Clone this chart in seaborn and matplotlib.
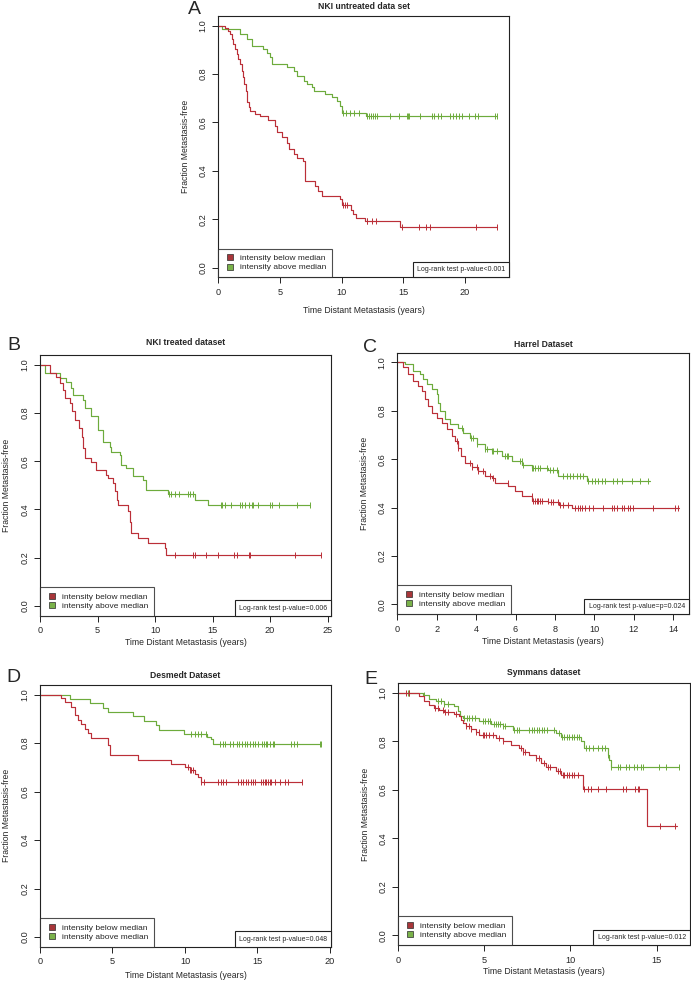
import numpy as np
import matplotlib
matplotlib.use("Agg")
import matplotlib.pyplot as plt
import seaborn as sns
from matplotlib.lines import Line2D
from matplotlib.offsetbox import AnchoredText

sns.set_style("ticks")
plt.rcParams["font.family"] = ["Liberation Sans", "DejaVu Sans"]

# ---------------------------------------------------------------------
# Kaplan-Meier curves (time in years, fraction free)
# ---------------------------------------------------------------------
# A - NKI untreated
A_red_t = [0, 0.55, 0.8, 0.95, 1.1, 1.22, 1.35, 1.49, 1.62, 1.76, 1.9, 2.03, 2.12, 2.22, 2.3,
           2.45, 2.57, 2.97, 3.4, 4.07, 4.56, 4.75, 5.16, 5.56, 5.7, 6.1, 6.38, 6.84, 7.05,
           7.86, 8.1, 8.4, 9.9, 10.05, 10.8, 10.95, 11.2, 11.9, 14.75, 22.6]
A_red_s = [1.0, 0.99, 0.978, 0.966, 0.945, 0.924, 0.903, 0.883, 0.862, 0.841, 0.814, 0.786,
           0.759, 0.731, 0.683, 0.662, 0.648, 0.635, 0.625, 0.61, 0.586, 0.559, 0.538, 0.517,
           0.49, 0.469, 0.455, 0.441, 0.358, 0.338, 0.317, 0.296, 0.283, 0.258, 0.24, 0.22,
           0.207, 0.193, 0.166, 0.166]
A_red_c = [10.1, 10.27, 10.4, 12.03, 12.1, 12.45, 12.8, 14.86, 16.3, 16.84, 17.2, 20.9, 22.6]
A_green_t = [0, 0.3, 1.76, 2.3, 2.7, 3.65, 3.92, 4.19, 4.38, 5.54, 6.1, 6.38, 6.92, 7.2, 7.6,
             7.74, 8.69, 9.24, 9.64, 9.83, 10.0, 12.0, 22.6]
A_green_s = [1.0, 0.986, 0.966, 0.945, 0.917, 0.904, 0.886, 0.869, 0.841, 0.83, 0.814, 0.793,
             0.772, 0.758, 0.745, 0.728, 0.717, 0.704, 0.687, 0.669, 0.641, 0.627, 0.627]
A_green_c = [10.1, 10.35, 10.65, 11.0, 11.45, 12.05, 12.2, 12.4, 12.55, 12.7, 12.85, 13.9,
             14.65, 15.3, 15.38, 15.5, 16.35, 17.35, 17.5, 17.8, 18.1, 18.8, 19.0, 19.3, 19.55,
             19.8, 20.3, 20.8, 21.1, 22.45, 22.6]

# B - NKI treated
B_red_t = [0, 0.85, 1.42, 1.71, 2.0, 2.2, 2.58, 2.78, 3.07, 3.36, 3.65, 3.74, 3.88, 4.46, 4.9,
           5.77, 5.9, 6.35, 6.55, 6.72, 6.78, 7.65, 7.8, 7.94, 8.52, 9.39, 10.84, 10.99, 24.4]
B_red_s = [1.0, 0.964, 0.95, 0.923, 0.895, 0.861, 0.84, 0.806, 0.771, 0.736, 0.702, 0.654,
           0.612, 0.598, 0.564, 0.544, 0.53, 0.509, 0.475, 0.44, 0.42, 0.392, 0.35, 0.302,
           0.281, 0.261, 0.24, 0.21, 0.21]
B_red_c = [11.71, 13.3, 13.45, 14.46, 15.48, 16.87, 17.13, 18.14, 18.26, 22.14, 24.4]
B_green_t = [0, 0.41, 1.71, 2.29, 2.72, 2.87, 3.74, 3.88, 4.4, 5.07, 5.48, 6.06, 6.2, 6.93,
             7.07, 7.51, 8.09, 8.96, 9.25, 11.14, 13.45, 14.6, 23.45]
B_green_s = [1.0, 0.965, 0.946, 0.93, 0.905, 0.875, 0.854, 0.819, 0.786, 0.731, 0.681, 0.66,
             0.64, 0.626, 0.585, 0.571, 0.537, 0.523, 0.482, 0.463, 0.44, 0.417, 0.417]
B_green_c = [11.19, 11.36, 11.77, 12.12, 12.87, 13.01, 13.3, 15.71, 15.86, 16.06, 16.58,
             17.36, 17.59, 17.86, 18.2, 18.41, 18.52, 18.99, 20.03, 20.14, 20.75, 22.38, 23.45]

# C - Harrel
C_red_t = [0, 0.3, 0.56, 0.81, 1.07, 1.24, 1.41, 1.58, 1.74, 2.0, 2.25, 2.5, 2.76, 2.93, 3.1,
           3.23, 3.44, 3.77, 4.11, 4.45, 4.79, 4.96, 5.64, 5.98, 6.32, 6.83, 7.67, 8.18, 8.86,
           14.3]
C_red_s = [1.0, 0.979, 0.951, 0.924, 0.903, 0.882, 0.847, 0.82, 0.792, 0.771, 0.751, 0.723,
           0.695, 0.674, 0.647, 0.612, 0.585, 0.568, 0.55, 0.532, 0.522, 0.501, 0.487, 0.467,
           0.446, 0.429, 0.421, 0.411, 0.40, 0.40]
C_red_c = [3.01, 3.1, 3.69, 3.81, 4.03, 4.11, 4.36, 4.7, 4.87, 5.63, 6.82, 6.9, 6.99, 7.07,
           7.15, 7.24, 7.32, 7.66, 7.8, 7.92, 8.17, 8.25, 8.42, 8.68, 9.02, 9.15, 9.27, 9.39,
           9.52, 9.73, 9.95, 10.45, 10.88, 11.0, 11.13, 11.38, 11.52, 11.72, 11.8, 11.97,
           12.99, 14.09, 14.23]
C_green_t = [0, 0.39, 0.81, 1.15, 1.32, 1.49, 1.74, 2.0, 2.08, 2.17, 2.42, 2.68, 3.1, 3.35,
             3.69, 4.03, 4.45, 4.79, 5.3, 5.8, 6.32, 6.82, 7.66, 8.17, 9.61, 12.8]
C_green_s = [1.0, 0.995, 0.965, 0.951, 0.93, 0.91, 0.889, 0.868, 0.834, 0.799, 0.764, 0.744,
             0.73, 0.709, 0.688, 0.661, 0.643, 0.633, 0.612, 0.591, 0.577, 0.564, 0.554,
             0.532, 0.508, 0.508]
C_green_c = [3.27, 3.74, 3.86, 4.03, 4.45, 4.53, 4.79, 4.87, 5.04, 5.46, 5.55, 5.63, 6.23,
             6.31, 6.39, 6.82, 6.9, 6.99, 7.15, 7.24, 7.58, 7.75, 7.92, 8.09, 8.42, 8.59,
             8.76, 8.93, 9.1, 9.27, 9.44, 9.69, 9.86, 10.03, 10.2, 10.37, 10.54, 10.96,
             11.13, 11.38, 11.89, 12.31, 12.74]

# D - Desmedt
D_red_t = [0, 1.47, 1.7, 2.16, 2.39, 2.62, 2.85, 3.08, 3.31, 3.49, 4.69, 4.8, 6.76, 9.06,
           9.98, 10.32, 10.67, 10.9, 11.08, 18.05]
D_red_s = [1.0, 0.987, 0.971, 0.95, 0.916, 0.895, 0.881, 0.86, 0.84, 0.822, 0.792, 0.75,
           0.732, 0.715, 0.702, 0.688, 0.674, 0.66, 0.639, 0.639]
D_red_c = [10.21, 10.32, 10.44, 10.55, 11.13, 11.29, 12.28, 12.46, 12.62, 12.85, 13.66,
           13.84, 14.0, 14.18, 14.34, 14.53, 14.69, 14.8, 15.26, 15.38, 15.49, 15.61, 15.72,
           15.84, 15.95, 16.23, 16.52, 16.87, 17.1, 18.05]
D_green_t = [0, 2.05, 3.43, 4.34, 4.69, 6.41, 7.17, 8.02, 8.18, 9.93, 11.54, 11.82, 11.93,
             19.4]
D_green_s = [1.0, 0.982, 0.964, 0.946, 0.93, 0.912, 0.891, 0.874, 0.854, 0.837, 0.826, 0.816,
             0.796, 0.796]
D_green_c = [10.44, 10.67, 10.9, 11.13, 11.47, 12.41, 12.6, 12.76, 13.1, 13.29, 13.56, 13.75,
             13.91, 14.14, 14.3, 14.48, 14.67, 14.83, 15.06, 15.29, 15.45, 15.56, 15.68,
             15.86, 16.05, 16.14, 17.33, 17.52, 17.75, 19.29, 19.36]

# E - Symmans
E_red_t = [0, 1.22, 1.51, 1.8, 2.09, 2.38, 2.67, 3.25, 3.54, 3.64, 3.74, 3.93, 4.22, 4.51,
           4.71, 5.67, 6.06, 6.54, 7.03, 7.22, 7.61, 8.0, 8.29, 8.58, 9.16, 9.45, 10.71,
           14.42, 16.2]
E_red_s = [1.0, 0.986, 0.969, 0.952, 0.938, 0.928, 0.92, 0.913, 0.904, 0.889, 0.876, 0.862,
           0.851, 0.837, 0.827, 0.814, 0.8, 0.786, 0.772, 0.758, 0.745, 0.731, 0.71, 0.694,
           0.68, 0.662, 0.603, 0.451, 0.451]
E_red_c = [0.45, 0.6, 2.15, 2.29, 2.58, 2.73, 2.87, 3.35, 3.93, 4.09, 4.22, 4.51, 4.67, 4.9,
           4.99, 5.09, 5.28, 5.48, 5.87, 6.06, 7.13, 7.26, 7.38, 8.0, 8.15, 8.48, 8.67, 8.81,
           9.26, 9.39, 9.55, 9.64, 9.78, 9.93, 10.09, 10.22, 10.42, 10.8, 10.99, 11.19,
           11.58, 12.06, 13.03, 13.22, 13.76, 13.9, 13.99, 15.19, 16.06]
E_green_t = [0, 1.41, 1.8, 2.19, 2.67, 3.25, 3.45, 3.58, 3.74, 4.71, 5.38, 6.06, 6.64, 9.16,
             9.45, 10.6, 10.81, 12.16, 12.25, 12.35, 16.3]
E_green_s = [1.0, 0.99, 0.975, 0.965, 0.955, 0.945, 0.924, 0.906, 0.896, 0.883, 0.873, 0.862,
             0.848, 0.834, 0.82, 0.8, 0.772, 0.745, 0.724, 0.696, 0.696]
E_green_c = [0.54, 0.64, 1.51, 2.29, 2.48, 2.67, 2.87, 3.83, 3.97, 4.12, 4.28, 4.47, 4.94,
             5.05, 5.19, 5.33, 5.58, 5.67, 5.77, 5.9, 6.06, 6.22, 6.74, 6.87, 7.03, 7.61,
             7.76, 7.9, 8.04, 8.19, 8.34, 8.48, 8.62, 9.06, 9.35, 9.51, 9.64, 9.78, 9.93,
             10.09, 10.22, 10.36, 10.47, 10.9, 11.09, 11.33, 11.58, 11.83, 12.02, 12.16,
             12.35, 12.74, 12.87, 13.22, 13.41, 13.7, 13.84, 14.09, 14.19, 15.16, 15.55, 16.28]

letters = ["A", "B", "C", "D", "E"]
titles = ["NKI untreated data set", "NKI treated dataset", "Harrel Dataset",
          "Desmedt Dataset", "Symmans dataset"]
pvalues = ["Log-rank test p-value<0.001", "Log-rank test p-value=0.006",
           "Log-rank test p-value=p=0.024", "Log-rank test p-value=0.048",
           "Log-rank test p-value=0.012"]
xmax = [23.6, 25.3, 14.8, 20.07, 16.94]
xstep = [5, 5, 2, 5, 5]
legend_labels = ["intensity below median", "intensity above median"]

RED = "#bb2f38"
GREEN = "#6dab3c"
RED_BOX = "#a8363a"
GREEN_BOX = "#7ab24a"

# layout (pixel geometry of each panel in the 691x984 figure)
W, H = 691, 984
boxes = [(218.3, 16, 509.3, 277.3), (40, 355, 331, 615.7), (397.3, 352.7, 689, 614),
         (40, 685, 331, 946.7), (398.3, 683.3, 690, 945)]
title_pad = [4.7, 7.5, 4.0, 5.4, 6.3]
xlabel_pad = [6.5, 2.2, 2.2, 3.6, 1.8]
letter_pos = [(194, 9), (14, 346), (370, 347), (13, 678), (371, 680)]


def step_value(t, s, c):
    idx = np.searchsorted(np.asarray(t), np.asarray(c), side="right") - 1
    return np.asarray(s)[idx]


fig = plt.figure(figsize=(W / 100, H / 100), dpi=100)

curves = [
    (A_red_t, A_red_s, A_red_c, A_green_t, A_green_s, A_green_c),
    (B_red_t, B_red_s, B_red_c, B_green_t, B_green_s, B_green_c),
    (C_red_t, C_red_s, C_red_c, C_green_t, C_green_s, C_green_c),
    (D_red_t, D_red_s, D_red_c, D_green_t, D_green_s, D_green_c),
    (E_red_t, E_red_s, E_red_c, E_green_t, E_green_s, E_green_c),
]

for i, (rt, rs, rc, gt, gs, gc) in enumerate(curves):
    x0, y0, x1, y1 = boxes[i]
    ax = fig.add_axes([x0 / W, 1 - y1 / H, (x1 - x0) / W, (y1 - y0) / H])

    for t, s, c, col in [(gt, gs, gc, GREEN), (rt, rs, rc, RED)]:
        sns.lineplot(x=t, y=s, estimator=None, sort=False, drawstyle="steps-post",
                     color=col, linewidth=0.85, ax=ax)
        sns.scatterplot(x=c, y=step_value(t, s, c), marker="|", s=22, linewidth=0.7,
                        color=col, ax=ax)

    ax.set_xlim(0, xmax[i])
    ax.set_ylim(-0.04, 1.04)
    ax.set_xticks(np.arange(0, xmax[i], xstep[i]))
    ax.set_yticks([0, 0.2, 0.4, 0.6, 0.8, 1.0])
    ax.set_yticklabels(["0.0", "0.2", "0.4", "0.6", "0.8", "1.0"], rotation=90, va="center")
    ax.tick_params(labelsize=6.6, length=4, width=0.7, pad=3.6, color="#222222")
    for sp in ax.spines.values():
        sp.set_linewidth(0.8)
        sp.set_color("#222222")

    ax.set_xlabel("Time Distant Metastasis (years)", fontsize=6.2, labelpad=xlabel_pad[i])
    ax.set_ylabel("Fraction Metastasis-free", fontsize=6.2, labelpad=6.5)
    ax.set_title(titles[i], fontsize=6.2, fontweight="bold", pad=title_pad[i])

    handles = [Line2D([], [], ls="", marker="s", markersize=4.2, markerfacecolor=RED_BOX,
                      markeredgecolor="#2a2a2a", markeredgewidth=0.5),
               Line2D([], [], ls="", marker="s", markersize=4.2, markerfacecolor=GREEN_BOX,
                      markeredgecolor="#2a2a2a", markeredgewidth=0.5)]
    leg = ax.legend(handles, legend_labels, loc="lower left", borderaxespad=0,
                    frameon=True, fancybox=False, edgecolor="#222222", fontsize=6.0,
                    borderpad=0.7, handlelength=1.4, handletextpad=0.5, labelspacing=0.15)
    leg.get_frame().set_linewidth(0.8)

    at = AnchoredText(pvalues[i], loc="lower right", borderpad=0, pad=0.6,
                      prop=dict(size=5.0), frameon=True)
    at.patch.set_boxstyle("square,pad=0")
    at.patch.set_edgecolor("#222222")
    at.patch.set_linewidth(0.8)
    ax.add_artist(at)

    lx, ly = letter_pos[i]
    fig.text(lx / W, 1 - ly / H, letters[i], fontsize=14, ha="center", va="center")

fig.savefig("out.png", dpi=100)
